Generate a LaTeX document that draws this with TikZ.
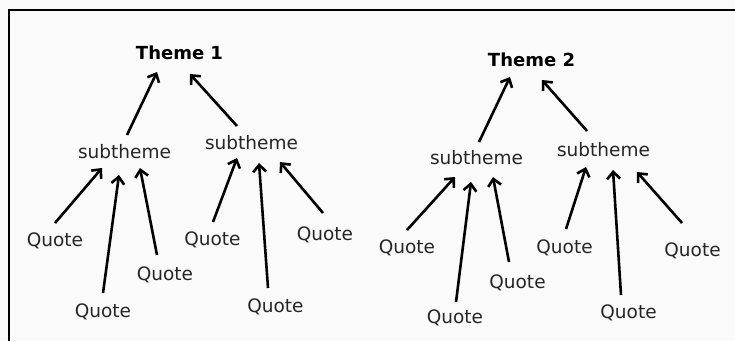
\documentclass[tikz,border=0pt]{standalone}
\usepackage{fontspec}
\setmainfont{DejaVu Sans}
\usetikzlibrary{arrows.meta}
\begin{document}
\begin{tikzpicture}[x=1pt,y=-1pt,
  lbl/.style={inner sep=0pt,font=\fontsize{18.5}{20}\selectfont,text=black!85},
  ttl/.style={inner sep=0pt,font=\fontsize{18}{20}\selectfont\bfseries},
  arr/.style={line width=2.6pt,-{Straight Barb[length=7pt,width=13pt,line width=2.6pt]}}]
\useasboundingbox (0,0) rectangle (735,341);
\fill[white!98!black] (0,0) rectangle (735,341);
\draw[line width=2.2pt] (735,10) -- (9,10) -- (9,341);
% left panel
\node[ttl] (t1) at (179.5,53) {Theme 1};
\node[lbl] (sL) at (124.5,152) {subtheme};
\node[lbl] (sR) at (251.5,143) {subtheme};
\node[lbl] (qa) at (55,241) {Quote};
\node[lbl] (qb) at (103,312) {Quote};
\node[lbl] (qc) at (165,275) {Quote};
\node[lbl] (qd) at (212.5,240) {Quote};
\node[lbl] (qe) at (275.5,307) {Quote};
\node[lbl] (qf) at (325,235) {Quote};
\draw[arr] ([shift={(2.5,-17)}]sL.center) -- ([shift={(-22.5,19)}]t1.center);
\draw[arr] ([shift={(-14.5,-17)}]sR.center) -- ([shift={(10.5,21)}]t1.center);
\draw[arr] ([shift={(0,-18)}]qa.center) -- ([shift={(-22.5,16)}]sL.center);
\draw[arr] ([shift={(0,-19)}]qb.center) -- ([shift={(-5.5,23)}]sL.center);
\draw[arr] ([shift={(-8,-20)}]qc.center) -- ([shift={(15.5,16)}]sL.center);
\draw[arr] ([shift={(0.5,-18)}]qd.center) -- ([shift={(-14.5,15)}]sR.center);
\draw[arr] ([shift={(-7.5,-19)}]qe.center) -- ([shift={(7.5,20)}]sR.center);
\draw[arr] ([shift={(-2,-22)}]qf.center) -- ([shift={(28.5,19)}]sR.center);
% right panel
\node[ttl] (t2) at (531.5,60) {Theme 2};
\node[lbl] (sL2) at (476.5,158) {subtheme};
\node[lbl] (sR2) at (603.5,150) {subtheme};
\node[lbl] (q2a) at (407,248) {Quote};
\node[lbl] (q2b) at (455,318) {Quote};
\node[lbl] (q2c) at (517.5,283) {Quote};
\node[lbl] (q2d) at (564.5,248) {Quote};
\node[lbl] (q2e) at (628.5,313) {Quote};
\node[lbl] (q2f) at (692.5,251) {Quote};
\draw[arr] ([shift={(2.5,-16)}]sL2.center) -- ([shift={(-21.5,17)}]t2.center);
\draw[arr] ([shift={(-16.5,-19)}]sR2.center) -- ([shift={(10.5,20)}]t2.center);
\draw[arr] ([shift={(0,-18)}]q2a.center) -- ([shift={(-21.5,19)}]sL2.center);
\draw[arr] ([shift={(1,-16)}]q2b.center) -- ([shift={(-5.5,24)}]sL2.center);
\draw[arr] ([shift={(-8.5,-21)}]q2c.center) -- ([shift={(16.5,19)}]sL2.center);
\draw[arr] ([shift={(1.5,-19)}]q2d.center) -- ([shift={(-17.5,17)}]sR2.center);
\draw[arr] ([shift={(-7.5,-18)}]q2e.center) -- ([shift={(9.5,20)}]sR2.center);
\draw[arr] ([shift={(-10.5,-28)}]q2f.center) -- ([shift={(33.5,22)}]sR2.center);
\end{tikzpicture}
\end{document}
